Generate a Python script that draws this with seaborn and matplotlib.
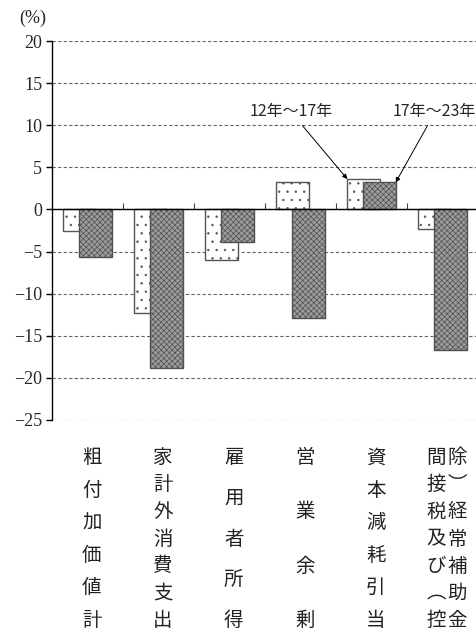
import numpy as np
import pandas as pd
import matplotlib
matplotlib.use('Agg')
from matplotlib import pyplot as plt
from matplotlib import transforms
import seaborn as sns


# Data (%)

categories = ['粗付加価値計', '家計外消費支出', '雇用者所得', '営業余剰',
              '資本減耗引当', '間接税及び（控除）経常補助金']
label_columns = [['粗付加価値計'], ['家計外消費支出'], ['雇用者所得'],
                 ['営業余剰'], ['資本減耗引当'], ['間接税及び︵控', '除︶経常補助金']]
period_labels = ['12年〜17年', '17年〜23年']
change_12_17 = [-2.5, -12.3, -6.0, 3.2, 3.6, -2.3]
change_17_23 = [-5.6, -18.8, -3.9, -12.9, 3.2, -16.7]
y_ticks = list(range(-25, 21, 5))


def draw_series(ax, values, shift, face, hatch, edge):
    n_before = len(ax.patches)
    df = pd.DataFrame({'category': categories, 'value': values})
    sns.barplot(data=df, x='category', y='value', width=0.46, color=face,
                saturation=1, edgecolor=edge, linewidth=1.0, hatch=hatch,
                errorbar=None, ax=ax)
    for p in ax.patches[n_before:]:
        p.set_x(p.get_x() + shift)


def main():
    sns.set_theme(style='white')
    plt.rcParams['font.family'] = ['Noto Sans CJK JP', 'DejaVu Sans']
    plt.rcParams['hatch.linewidth'] = 0.5

    fig = plt.figure(figsize=(4.77, 6.35), dpi=100)
    ax = fig.add_axes([52 / 477, 1 - 420 / 635, 426 / 477, 379 / 635])

    # dotted bars first, checkered bars drawn over them
    draw_series(ax, change_12_17, -0.11, 'white', '..', '#555555')
    draw_series(ax, change_17_23, 0.11, '#9c9c9c', 'xxxxxx', '#505050')

    ax.set_xlim(-0.5, len(categories) - 0.5)
    ax.set_ylim(-25, 20)
    ax.set_xlabel('')
    ax.set_ylabel('')

    # grid
    ax.set_yticks(y_ticks, labels=[str(v).replace('-', '\u2212') for v in y_ticks])
    ax.yaxis.grid(True, color='#666666', linestyle=(0, (3, 2)), linewidth=0.8)
    ax.set_axisbelow(True)
    ax.tick_params(axis='y', which='major', left=True, length=4, width=1,
                   direction='out', pad=3, labelsize=13, color='black',
                   labelfontfamily='Liberation Serif')

    # spines: left axis and zero line
    for side in ['top', 'right']:
        ax.spines[side].set_visible(False)
    ax.spines['left'].set_color('black')
    ax.spines['left'].set_linewidth(1.0)
    ax.spines['bottom'].set_position(('data', 0))
    ax.spines['bottom'].set_color('black')
    ax.spines['bottom'].set_linewidth(1.0)
    ax.spines['bottom'].set_zorder(5)

    ax.set_xticks(range(len(categories)))
    ax.set_xticks(np.arange(0.5, len(categories) - 1, 1), minor=True)
    ax.tick_params(axis='x', which='major', length=0, labelbottom=False)
    ax.tick_params(axis='x', which='minor', bottom=True, length=4, width=0.8,
                   direction='in', color='#444444')

    # vertical category labels
    trans = transforms.blended_transform_factory(ax.transData, ax.transAxes)
    for i, cols in enumerate(label_columns):
        if len(cols) == 1:
            offsets = [0.06]
        else:
            offsets = [-0.09, 0.21]
        for off, col in zip(offsets, cols):
            ys = np.linspace(-0.100, -0.528, len(col))
            for ch, y in zip(col, ys):
                ax.text(i + off, y, ch, transform=trans, ha='center',
                        va='center', fontsize=14, color='#222222',
                        clip_on=False)

    # period annotations
    idx = 4
    ax.annotate(period_labels[0], xy=(idx - 0.34, change_12_17[idx]),
                xytext=(2.87, 11.6), ha='center', va='center', fontsize=11.5,
                arrowprops=dict(arrowstyle='-|>', color='black', lw=0.7,
                                mutation_scale=7, shrinkA=2, shrinkB=0,
                                relpos=(0.58, 0.0)))
    ax.annotate(period_labels[1], xy=(idx + 0.34, change_17_23[idx]),
                xytext=(4.89, 11.6), ha='center', va='center', fontsize=11.5,
                arrowprops=dict(arrowstyle='-|>', color='black', lw=0.7,
                                mutation_scale=7, shrinkA=2, shrinkB=0,
                                relpos=(0.45, 0.0)))

    fig.text(33 / 477, 1 - 18 / 635, '(%)', fontfamily='Liberation Serif',
             fontsize=13, ha='center', va='center')

    fig.savefig('out.png', dpi=100)


if __name__ == "__main__":
    main()
